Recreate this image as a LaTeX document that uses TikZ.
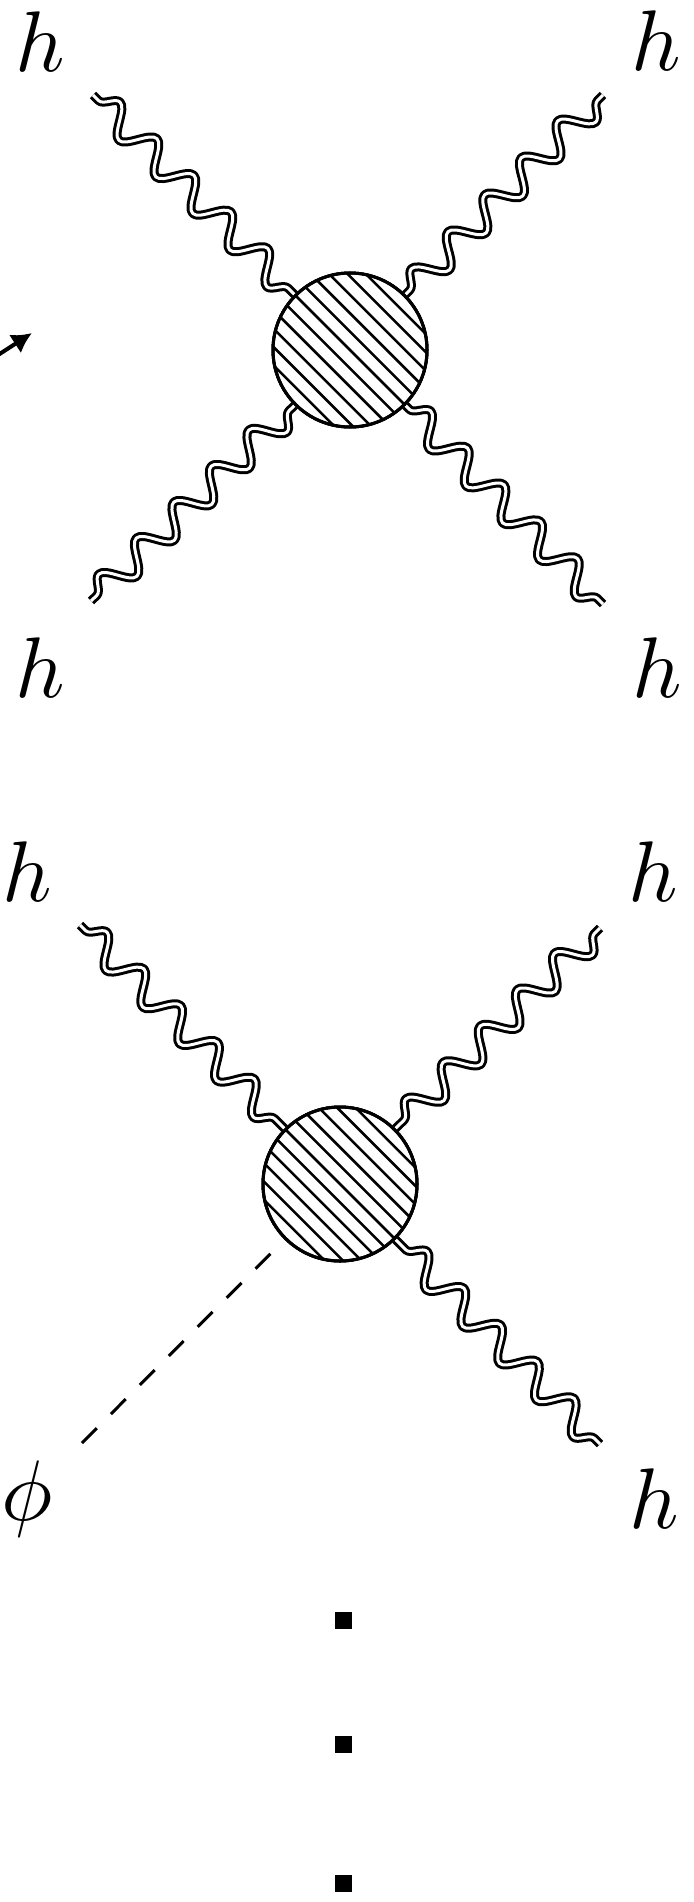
\documentclass[tikz,border=0pt]{standalone}
\usetikzlibrary{decorations.pathmorphing, arrows.meta}
\begin{document}
\begin{tikzpicture}[x=1pt,y=-1pt,
  grav/.style={decorate, decoration={snake, segment length=52pt, amplitude=14pt, pre length=8pt, post length=4pt},
               double, line width=3pt, double distance=3pt, line join=round},
  blob/.style={circle, draw, line width=3pt, fill=white, minimum size=154pt, inner sep=0pt},
  hatch/.style={line width=2.5pt},
  lbl/.style={inner sep=0pt, scale=8.6},
  sq/.style={rectangle, fill=black, minimum size=17pt, inner sep=0pt},
  scal/.style={dash pattern=on 21pt off 20pt, line width=3pt}]
\useasboundingbox (0,0) rectangle (693,1902);

% ---------- first diagram ----------
\node[blob] (b1) at (350,350) {};
\coordinate (e1) at (93,95);
\coordinate (e2) at (603,95);
\coordinate (e3) at (91,601);
\coordinate (e4) at (603,604);
\draw[grav] (e1) -- (b1.north west);
\draw[grav] (e2) -- (b1.north east);
\draw[grav] (e3) -- (b1.south west);
\draw[grav] (e4) -- (b1.south east);
\node[blob] at (b1.center) {};
\begin{scope}[shift={(350,350)}]
  \clip (0,0) circle (76);
  \foreach \k in {-6,...,6}
    \draw[hatch] (\k*9.19-90,-\k*9.19-90) -- (\k*9.19+90,-\k*9.19+90);
\end{scope}
\draw[line width=3pt] (b1.center) circle (77);

\node[lbl] (h1) at (40,42) {$h$};
\node[lbl] (h2) at (656,41) {$h$};
\node[lbl] (h3) at (40,668) {$h$};
\node[lbl] (h4) at (657,668) {$h$};

% arrow cut by the left edge
\coordinate (atail) at (-40,379.6);
\coordinate (atip) at (32,333);
\draw[line width=4pt, -{Latex[length=20pt,width=22pt]}] (atail) -- (atip);

% ---------- second diagram ----------
\node[blob] (b2) at (340,1184) {};
\coordinate (f1) at (80,925);
\coordinate (f2) at (600,928);
\coordinate (f3) at (82,1443);
\coordinate (f4) at (600,1444);
\draw[scal] (f3) -- (b2.center);
\draw[grav] (f1) -- (b2.north west);
\draw[grav] (f2) -- (b2.north east);
\draw[grav] (f4) -- (b2.south east);
\node[blob] at (b2.center) {};
\begin{scope}[shift={(340,1184)}]
  \clip (0,0) circle (76);
  \foreach \k in {-6,...,6}
    \draw[hatch] (\k*9.19-90,-\k*9.19-90) -- (\k*9.19+90,-\k*9.19+90);
\end{scope}
\draw[line width=3pt] (b2.center) circle (77);

\node[lbl] (g1) at (27,872) {$h$};
\node[lbl] (g2) at (653,872) {$h$};
\node[lbl] (g3) at (27,1499) {$\phi$};
\node[lbl] (g4) at (654,1499) {$h$};

% ---------- dots ----------
\node[sq] (d1) at (343,1620.5) {};
\node[sq] (d2) at (343,1744) {};
\node[sq] (d3) at (343,1883) {};
\end{tikzpicture}
\end{document}
